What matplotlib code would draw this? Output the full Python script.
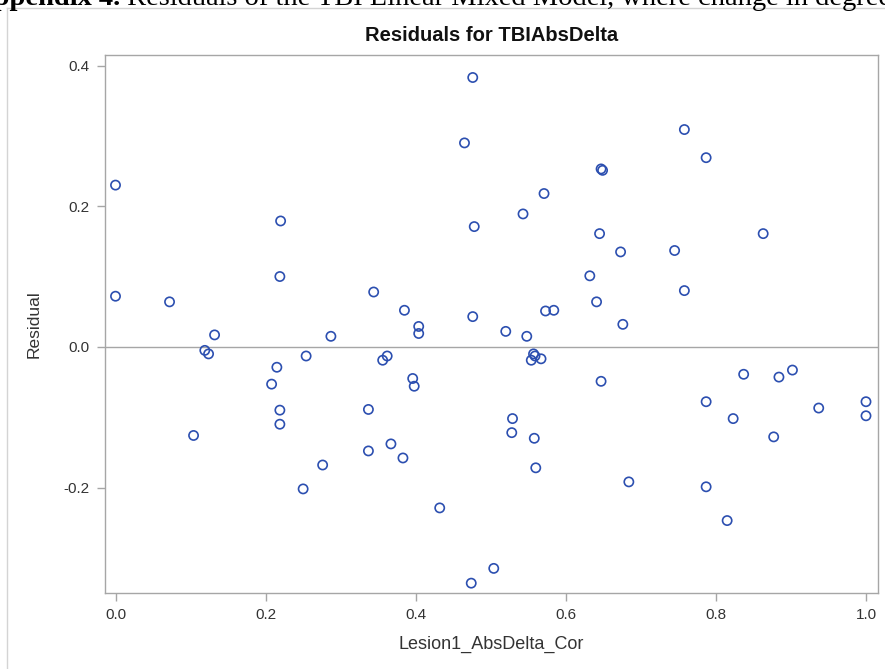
import matplotlib
matplotlib.use("Agg")
import matplotlib.pyplot as plt
from matplotlib.lines import Line2D

# Lesion1_AbsDelta_Cor (x) and model residuals (y)
lesion_abs_delta = [
    0.000, 0.000, 0.072, 0.104, 0.119, 0.124, 0.132, 0.208, 0.215, 0.219,
    0.219, 0.219, 0.220, 0.250, 0.254, 0.276, 0.287, 0.337, 0.337, 0.344,
    0.356, 0.362, 0.367, 0.383, 0.385, 0.396, 0.398, 0.404, 0.404, 0.432,
    0.465, 0.474, 0.476, 0.476, 0.478, 0.504, 0.520, 0.528, 0.529, 0.543,
    0.548, 0.554, 0.557, 0.558, 0.559, 0.560, 0.567, 0.571, 0.573, 0.584,
    0.632, 0.641, 0.645, 0.647, 0.647, 0.649, 0.673, 0.676, 0.684, 0.745,
    0.758, 0.758, 0.787, 0.787, 0.787, 0.815, 0.823, 0.837, 0.863, 0.877,
    0.884, 0.902, 0.937, 1.000, 1.000,
]
residuals = [
    0.230, 0.072, 0.064, -0.126, -0.005, -0.010, 0.017, -0.053, -0.029, 0.100,
    -0.090, -0.110, 0.179, -0.202, -0.013, -0.168, 0.015, -0.089, -0.148, 0.078,
    -0.019, -0.013, -0.138, -0.158, 0.052, -0.045, -0.056, 0.029, 0.019, -0.229,
    0.290, -0.336, 0.383, 0.043, 0.171, -0.315, 0.022, -0.122, -0.102, 0.189,
    0.015, -0.019, -0.010, -0.130, -0.013, -0.172, -0.017, 0.218, 0.051, 0.052,
    0.101, 0.064, 0.161, -0.049, 0.253, 0.251, 0.135, 0.032, -0.192, 0.137,
    0.309, 0.080, 0.269, -0.078, -0.199, -0.247, -0.102, -0.039, 0.161, -0.128,
    -0.043, -0.033, -0.087, -0.078, -0.098,
]

x_ticks = [0.0, 0.2, 0.4, 0.6, 0.8, 1.0]
x_tick_labels = ["0.0", "0.2", "0.4", "0.6", "0.8", "1.0"]
y_ticks = [-0.2, 0.0, 0.2, 0.4]
y_tick_labels = ["-0.2", "0.0", "0.2", "0.4"]

title = "Residuals for TBIAbsDelta"
x_label = "Lesion1_AbsDelta_Cor"
y_label = "Residual"
caption_bold = "Appendix 4."
caption_rest = " Residuals of the TBI Linear Mixed Model, where change in degree of"

W, H = 885, 669
fig = plt.figure(figsize=(W / 100, H / 100), dpi=100)
fig.patch.set_facecolor("white")

# outer frame of the graph panel
frame_col = "#d4d4d4"
fig.add_artist(Line2D([7 / W, 7 / W], [0, 1 - 8 / H], transform=fig.transFigure,
                      color=frame_col, lw=1.0))
fig.add_artist(Line2D([7 / W, 1], [1 - 8 / H, 1 - 8 / H], transform=fig.transFigure,
                      color=frame_col, lw=1.0))

# document caption above the panel (runs off the top edge of the page crop)
cap_fs = 20.5
t1 = fig.text(-27 / W, 1 - 5 / H, caption_bold, fontsize=cap_fs, fontweight="bold",
              family="Liberation Serif", va="baseline", ha="left")
fig.canvas.draw()
bb = t1.get_window_extent()
fig.text(bb.x1 / W, 1 - 5 / H, caption_rest, fontsize=cap_fs,
         family="Liberation Serif", va="baseline", ha="left")

left, right, top, bottom = 105, 878, 55, 593
ax = fig.add_axes([left / W, 1 - bottom / H, (right - left) / W, (bottom - top) / H])

axis_col = "#a6a6a6"
ax.axhline(0.0, color=axis_col, lw=1.0, zorder=1)
ax.scatter(lesion_abs_delta, residuals, s=44, facecolors="none",
           edgecolors="#2c4fb0", linewidths=1.2, zorder=3)

ax.set_xlim(-0.014, 1.016)
ax.set_ylim(-0.350, 0.415)
ax.set_xticks(x_ticks)
ax.set_xticklabels(x_tick_labels)
ax.set_yticks(y_ticks)
ax.set_yticklabels(y_tick_labels)

for sp in ax.spines.values():
    sp.set_color(axis_col)
    sp.set_linewidth(1.0)
ax.tick_params(axis="both", direction="out", length=6, width=1.0, color=axis_col,
               labelsize=11, labelcolor="#333333", pad=5)
for lab in ax.get_xticklabels() + ax.get_yticklabels():
    lab.set_family("Liberation Sans")

ax.set_title(title, fontsize=14.5, fontweight="bold", family="Liberation Sans",
             color="#111111", pad=10)
ax.set_xlabel(x_label, fontsize=13, family="Liberation Sans", color="#333333",
              labelpad=10)
ax.set_ylabel(y_label, fontsize=12.5, family="Liberation Sans", color="#333333",
              labelpad=16)

fig.savefig("out.png", dpi=100, facecolor="white")
